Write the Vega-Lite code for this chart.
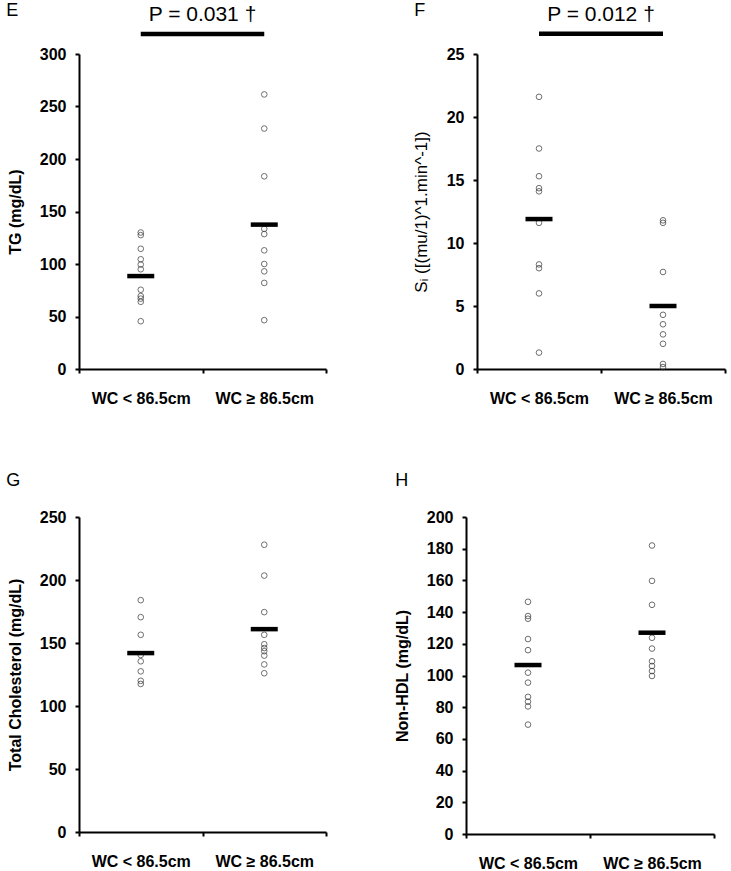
{
  "$schema": "https://vega.github.io/schema/vega-lite/v6.json",
  "padding": {"left": 6, "top": 2, "right": 2, "bottom": 0},
  "background": "white",
  "datasets": {
    "pts": [
      {"panel": "E", "group": "WC < 86.5cm", "value": 130},
      {"panel": "E", "group": "WC < 86.5cm", "value": 127.5},
      {"panel": "E", "group": "WC < 86.5cm", "value": 114.5},
      {"panel": "E", "group": "WC < 86.5cm", "value": 104.5},
      {"panel": "E", "group": "WC < 86.5cm", "value": 99.5},
      {"panel": "E", "group": "WC < 86.5cm", "value": 95},
      {"panel": "E", "group": "WC < 86.5cm", "value": 75.5},
      {"panel": "E", "group": "WC < 86.5cm", "value": 69.5},
      {"panel": "E", "group": "WC < 86.5cm", "value": 67},
      {"panel": "E", "group": "WC < 86.5cm", "value": 64},
      {"panel": "E", "group": "WC < 86.5cm", "value": 45.5},
      {"panel": "E", "group": "WC ≥ 86.5cm", "value": 261.5},
      {"panel": "E", "group": "WC ≥ 86.5cm", "value": 229},
      {"panel": "E", "group": "WC ≥ 86.5cm", "value": 183.5},
      {"panel": "E", "group": "WC ≥ 86.5cm", "value": 133.5},
      {"panel": "E", "group": "WC ≥ 86.5cm", "value": 128.5},
      {"panel": "E", "group": "WC ≥ 86.5cm", "value": 113},
      {"panel": "E", "group": "WC ≥ 86.5cm", "value": 100},
      {"panel": "E", "group": "WC ≥ 86.5cm", "value": 93},
      {"panel": "E", "group": "WC ≥ 86.5cm", "value": 82},
      {"panel": "E", "group": "WC ≥ 86.5cm", "value": 46.5},
      {"panel": "F", "group": "WC < 86.5cm", "value": 21.6},
      {"panel": "F", "group": "WC < 86.5cm", "value": 17.5},
      {"panel": "F", "group": "WC < 86.5cm", "value": 15.3},
      {"panel": "F", "group": "WC < 86.5cm", "value": 14.35},
      {"panel": "F", "group": "WC < 86.5cm", "value": 14.1},
      {"panel": "F", "group": "WC < 86.5cm", "value": 11.6},
      {"panel": "F", "group": "WC < 86.5cm", "value": 8.3},
      {"panel": "F", "group": "WC < 86.5cm", "value": 8.0},
      {"panel": "F", "group": "WC < 86.5cm", "value": 6.0},
      {"panel": "F", "group": "WC < 86.5cm", "value": 1.3},
      {"panel": "F", "group": "WC ≥ 86.5cm", "value": 11.8},
      {"panel": "F", "group": "WC ≥ 86.5cm", "value": 11.6},
      {"panel": "F", "group": "WC ≥ 86.5cm", "value": 7.7},
      {"panel": "F", "group": "WC ≥ 86.5cm", "value": 4.3},
      {"panel": "F", "group": "WC ≥ 86.5cm", "value": 3.55},
      {"panel": "F", "group": "WC ≥ 86.5cm", "value": 2.75},
      {"panel": "F", "group": "WC ≥ 86.5cm", "value": 2.0},
      {"panel": "F", "group": "WC ≥ 86.5cm", "value": 0.4},
      {"panel": "F", "group": "WC ≥ 86.5cm", "value": 0.15},
      {"panel": "G", "group": "WC < 86.5cm", "value": 184},
      {"panel": "G", "group": "WC < 86.5cm", "value": 170.5},
      {"panel": "G", "group": "WC < 86.5cm", "value": 156.5},
      {"panel": "G", "group": "WC < 86.5cm", "value": 140.5},
      {"panel": "G", "group": "WC < 86.5cm", "value": 135.5},
      {"panel": "G", "group": "WC < 86.5cm", "value": 127.5},
      {"panel": "G", "group": "WC < 86.5cm", "value": 120},
      {"panel": "G", "group": "WC < 86.5cm", "value": 117.5},
      {"panel": "G", "group": "WC ≥ 86.5cm", "value": 228},
      {"panel": "G", "group": "WC ≥ 86.5cm", "value": 203.5},
      {"panel": "G", "group": "WC ≥ 86.5cm", "value": 174.5},
      {"panel": "G", "group": "WC ≥ 86.5cm", "value": 156.5},
      {"panel": "G", "group": "WC ≥ 86.5cm", "value": 149},
      {"panel": "G", "group": "WC ≥ 86.5cm", "value": 146},
      {"panel": "G", "group": "WC ≥ 86.5cm", "value": 143.5},
      {"panel": "G", "group": "WC ≥ 86.5cm", "value": 140},
      {"panel": "G", "group": "WC ≥ 86.5cm", "value": 133},
      {"panel": "G", "group": "WC ≥ 86.5cm", "value": 126},
      {"panel": "H", "group": "WC < 86.5cm", "value": 146.5},
      {"panel": "H", "group": "WC < 86.5cm", "value": 137.5},
      {"panel": "H", "group": "WC < 86.5cm", "value": 135.8},
      {"panel": "H", "group": "WC < 86.5cm", "value": 123},
      {"panel": "H", "group": "WC < 86.5cm", "value": 116},
      {"panel": "H", "group": "WC < 86.5cm", "value": 101.8},
      {"panel": "H", "group": "WC < 86.5cm", "value": 95.5},
      {"panel": "H", "group": "WC < 86.5cm", "value": 86.5},
      {"panel": "H", "group": "WC < 86.5cm", "value": 83.5},
      {"panel": "H", "group": "WC < 86.5cm", "value": 80.5},
      {"panel": "H", "group": "WC < 86.5cm", "value": 69},
      {"panel": "H", "group": "WC ≥ 86.5cm", "value": 182},
      {"panel": "H", "group": "WC ≥ 86.5cm", "value": 159.7},
      {"panel": "H", "group": "WC ≥ 86.5cm", "value": 144.6},
      {"panel": "H", "group": "WC ≥ 86.5cm", "value": 123.8},
      {"panel": "H", "group": "WC ≥ 86.5cm", "value": 117},
      {"panel": "H", "group": "WC ≥ 86.5cm", "value": 109},
      {"panel": "H", "group": "WC ≥ 86.5cm", "value": 106},
      {"panel": "H", "group": "WC ≥ 86.5cm", "value": 102.8},
      {"panel": "H", "group": "WC ≥ 86.5cm", "value": 99.7}
    ],
    "means": [
      {"panel": "E", "group": "WC < 86.5cm", "value": 88.5},
      {"panel": "E", "group": "WC ≥ 86.5cm", "value": 137.5},
      {"panel": "F", "group": "WC < 86.5cm", "value": 11.9},
      {"panel": "F", "group": "WC ≥ 86.5cm", "value": 5.0},
      {"panel": "G", "group": "WC < 86.5cm", "value": 142},
      {"panel": "G", "group": "WC ≥ 86.5cm", "value": 161},
      {"panel": "H", "group": "WC < 86.5cm", "value": 106.6},
      {"panel": "H", "group": "WC ≥ 86.5cm", "value": 127}
    ],
    "pvals": [
      {"panel": "E", "g1": "WC < 86.5cm", "g2": "WC ≥ 86.5cm", "label": "P = 0.031 †"},
      {"panel": "F", "g1": "WC < 86.5cm", "g2": "WC ≥ 86.5cm", "label": "P = 0.012 †"}
    ]
  },
  "vconcat": [
    {
      "hconcat": [
        {
          "width": 247, "height": 315,
          "title": {"text": "E", "offset": -16, "dx": -1},
          "layer": [
            {"data": {"name": "pts"}, "transform": [{"filter": "datum.panel === 'E'"}],
             "mark": {"type": "point", "shape": "circle", "filled": false, "stroke": "#333", "strokeWidth": 1, "size": 32},
             "encoding": {
               "x": {"field": "group", "type": "nominal", "scale": {"domain": ["WC < 86.5cm", "WC ≥ 86.5cm"], "paddingInner": 0, "paddingOuter": 0}},
               "y": {"field": "value", "type": "quantitative", "scale": {"domain": [0, 300], "nice": false}, "axis": {"values": [0, 50, 100, 150, 200, 250, 300], "labelOverlap": false, "title": "TG (mg/dL)"}}}},
            {"data": {"name": "means"}, "transform": [{"filter": "datum.panel === 'E'"}],
             "mark": {"type": "tick", "color": "black", "size": 27, "thickness": 4.5, "opacity": 1},
             "encoding": {"x": {"field": "group", "type": "nominal"}, "y": {"field": "value", "type": "quantitative"}}},
            {"data": {"name": "pvals"}, "transform": [{"filter": "datum.panel === 'E'"}],
             "mark": {"type": "rule", "color": "black", "strokeWidth": 4.5},
             "encoding": {"x": {"field": "g1", "type": "nominal"}, "x2": {"field": "g2"}, "y": {"datum": 319}}},
            {"data": {"name": "pvals"}, "transform": [{"filter": "datum.panel === 'E'"}],
             "mark": {"type": "text", "fontSize": 21, "align": "center", "baseline": "alphabetic", "color": "black"},
             "encoding": {"x": {"field": "g1", "type": "nominal", "bandPosition": 1}, "y": {"datum": 331}, "text": {"field": "label"}}}
          ]
        },
        {
          "width": 248, "height": 315,
          "title": {"text": "F", "offset": -16, "dx": 2},
          "layer": [
            {"data": {"name": "pts"}, "transform": [{"filter": "datum.panel === 'F'"}],
             "mark": {"type": "point", "shape": "circle", "filled": false, "stroke": "#333", "strokeWidth": 1, "size": 32},
             "encoding": {
               "x": {"field": "group", "type": "nominal", "scale": {"domain": ["WC < 86.5cm", "WC ≥ 86.5cm"], "paddingInner": 0, "paddingOuter": 0}},
               "y": {"field": "value", "type": "quantitative", "scale": {"domain": [0, 25], "nice": false}, "axis": {"values": [0, 5, 10, 15, 20, 25], "labelOverlap": false, "title": "Sᵢ ([(mu/1)^1.min^-1])", "titleFontWeight": "normal", "titleFontSize": 17}}}},
            {"data": {"name": "means"}, "transform": [{"filter": "datum.panel === 'F'"}],
             "mark": {"type": "tick", "color": "black", "size": 27, "thickness": 4.5, "opacity": 1},
             "encoding": {"x": {"field": "group", "type": "nominal"}, "y": {"field": "value", "type": "quantitative"}}},
            {"data": {"name": "pvals"}, "transform": [{"filter": "datum.panel === 'F'"}],
             "mark": {"type": "rule", "color": "black", "strokeWidth": 4.5},
             "encoding": {"x": {"field": "g1", "type": "nominal"}, "x2": {"field": "g2"}, "y": {"datum": 26.6}}},
            {"data": {"name": "pvals"}, "transform": [{"filter": "datum.panel === 'F'"}],
             "mark": {"type": "text", "fontSize": 21, "align": "center", "baseline": "alphabetic", "color": "black"},
             "encoding": {"x": {"field": "g1", "type": "nominal", "bandPosition": 1}, "y": {"datum": 27.6}, "text": {"field": "label"}}}
          ]
        }
      ],
      "spacing": 85
    },
    {
      "hconcat": [
        {
          "width": 247, "height": 315,
          "title": {"text": "G", "offset": 19, "dx": -1},
          "layer": [
            {"data": {"name": "pts"}, "transform": [{"filter": "datum.panel === 'G'"}],
             "mark": {"type": "point", "shape": "circle", "filled": false, "stroke": "#333", "strokeWidth": 1, "size": 32},
             "encoding": {
               "x": {"field": "group", "type": "nominal", "scale": {"domain": ["WC < 86.5cm", "WC ≥ 86.5cm"], "paddingInner": 0, "paddingOuter": 0}},
               "y": {"field": "value", "type": "quantitative", "scale": {"domain": [0, 250], "nice": false}, "axis": {"values": [0, 50, 100, 150, 200, 250], "labelOverlap": false, "title": "Total Cholesterol (mg/dL)"}}}},
            {"data": {"name": "means"}, "transform": [{"filter": "datum.panel === 'G'"}],
             "mark": {"type": "tick", "color": "black", "size": 27, "thickness": 4.5, "opacity": 1},
             "encoding": {"x": {"field": "group", "type": "nominal"}, "y": {"field": "value", "type": "quantitative"}}}
          ]
        },
        {
          "width": 248, "height": 317,
          "title": {"text": "H", "offset": 19, "dx": 1},
          "layer": [
            {"data": {"name": "pts"}, "transform": [{"filter": "datum.panel === 'H'"}],
             "mark": {"type": "point", "shape": "circle", "filled": false, "stroke": "#333", "strokeWidth": 1, "size": 32},
             "encoding": {
               "x": {"field": "group", "type": "nominal", "scale": {"domain": ["WC < 86.5cm", "WC ≥ 86.5cm"], "paddingInner": 0, "paddingOuter": 0}},
               "y": {"field": "value", "type": "quantitative", "scale": {"domain": [0, 200], "nice": false}, "axis": {"values": [0, 20, 40, 60, 80, 100, 120, 140, 160, 180, 200], "labelOverlap": false, "title": "Non-HDL (mg/dL)"}}}},
            {"data": {"name": "means"}, "transform": [{"filter": "datum.panel === 'H'"}],
             "mark": {"type": "tick", "color": "black", "size": 27, "thickness": 4.5, "opacity": 1},
             "encoding": {"x": {"field": "group", "type": "nominal"}, "y": {"field": "value", "type": "quantitative", "axis": {"values": [0, 20, 40, 60, 80, 100, 120, 140, 160, 180, 200], "labelOverlap": false, "title": "Non-HDL (mg/dL)"}}}}
          ]
        }
      ],
      "spacing": 67
    }
  ],
  "spacing": 66,
  "config": {
    "view": {"stroke": null},
    "font": "Liberation Sans",
    "axis": {"domainColor": "black", "domainWidth": 2, "tickColor": "black", "tickWidth": 2, "labelColor": "black", "labelFont": "Liberation Sans", "labelFontSize": 16, "labelFontWeight": "bold", "labelOverlap": false, "titleColor": "black", "titleFont": "Liberation Sans", "titleFontSize": 16, "titleFontWeight": "bold", "grid": false},
    "axisX": {"tickBand": "extent", "tickSize": 4, "labelPadding": 17, "labelAngle": 0, "title": null},
    "axisY": {"tickSize": 4, "labelPadding": 9, "titlePadding": 16},
    "title": {"anchor": "start", "frame": "bounds", "fontSize": 18, "fontWeight": "normal", "color": "black", "font": "Liberation Sans"}
  }
}
